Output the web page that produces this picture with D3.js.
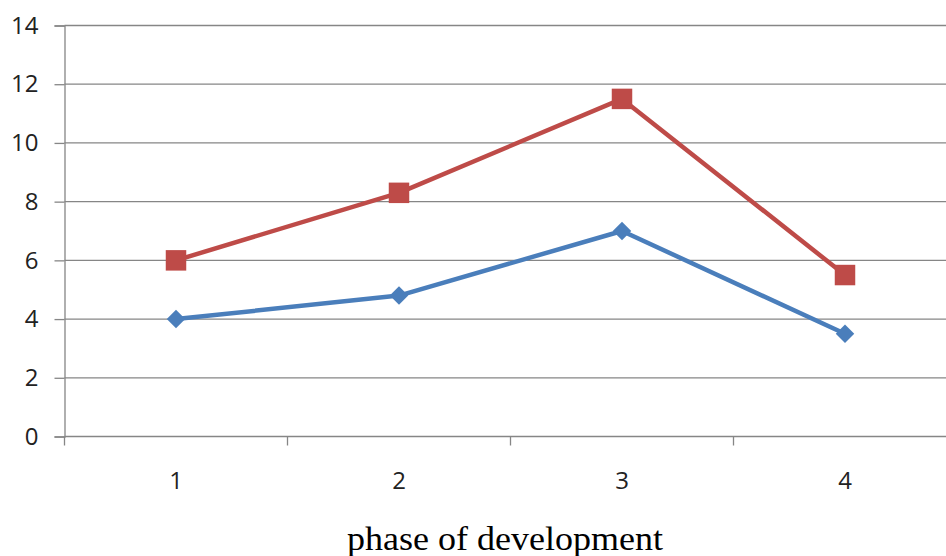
<!DOCTYPE html>
<html><head><meta charset="utf-8">
<script src="https://cdn.jsdelivr.net/npm/d3@7"></script>
<style>body{margin:0;background:#fff}svg{display:block}</style>
</head><body>
<svg id="c" width="946" height="556"></svg>
<script>
const categories = ["1","2","3","4"];
const seriesBlue = [4, 4.8, 7, 3.5];
const seriesRed = [6, 8.3, 11.5, 5.5];
const yTicks = [0,2,4,6,8,10,12,14];
const xTitle = "phase of development";

(function(){
const svg = d3.select("#c");
const left = 64.5, bandW = 223, plotTop = 25.5, bottom = 436.5;
const x = d3.scaleBand().domain(categories).range([left, left + bandW*4]).padding(0);
const y = d3.scaleLinear().domain([0,14]).range([bottom, plotTop]);
const cx = d => x(d) + x.bandwidth()/2;
const tickFont = "Open Sans, Liberation Sans, sans-serif";

// gridlines + y ticks
const yAxis = d3.axisLeft(y).tickValues(yTicks).tickSize(10).tickPadding(16);
const gy = svg.append("g").attr("transform", `translate(${left},0)`).call(yAxis);
gy.select(".domain").attr("stroke","#868686").attr("stroke-width",1.3);
gy.selectAll(".tick line").attr("stroke","#868686").attr("stroke-width",1.3);
gy.selectAll(".tick text").attr("font-family",tickFont).attr("font-size",24).attr("fill","#222");
svg.append("g").selectAll("line").data(yTicks).join("line")
  .attr("x1", left).attr("x2", 946).attr("y1", d=>y(d)).attr("y2", d=>y(d))
  .attr("stroke","#868686").attr("stroke-width",1.3);

// x axis
const xAxis = d3.axisBottom(x).tickSize(0).tickPadding(35);
const gx = svg.append("g").attr("transform", `translate(0,${bottom})`).call(xAxis);
gx.select(".domain").remove();
gx.selectAll(".tick text").attr("font-family",tickFont).attr("font-size",24).attr("fill","#222");
svg.append("g").selectAll("line").data(d3.range(5)).join("line")
  .attr("x1", i=>left+i*bandW).attr("x2", i=>left+i*bandW)
  .attr("y1", bottom).attr("y2", bottom+9)
  .attr("stroke","#868686").attr("stroke-width",1.3);

svg.append("text").attr("x", 505).attr("y", 550).attr("text-anchor","middle")
  .attr("font-family","Liberation Serif, Times New Roman, serif").attr("font-size",33).attr("fill","#000")
  .attr("textLength", 316).attr("lengthAdjust","spacingAndGlyphs")
  .text(xTitle);

const line = d3.line().x((d,i)=>cx(categories[i])).y(d=>y(d));
function drawSeries(vals, color, size, rot){
  svg.append("path").datum(vals).attr("d", line).attr("fill","none")
    .attr("stroke", color).attr("stroke-width",4.5).attr("stroke-linejoin","round");
  svg.append("g").selectAll("path").data(vals).join("path")
    .attr("transform",(d,i)=>`translate(${cx(categories[i])},${y(d)}) rotate(${rot})`)
    .attr("d", d3.symbol().type(d3.symbolSquare).size(size))
    .attr("fill", color);
}
drawSeries(seriesBlue, "#4a7ebb", 170, 45);
drawSeries(seriesRed, "#be4b48", 420, 0);
})();
</script>
</body></html>
